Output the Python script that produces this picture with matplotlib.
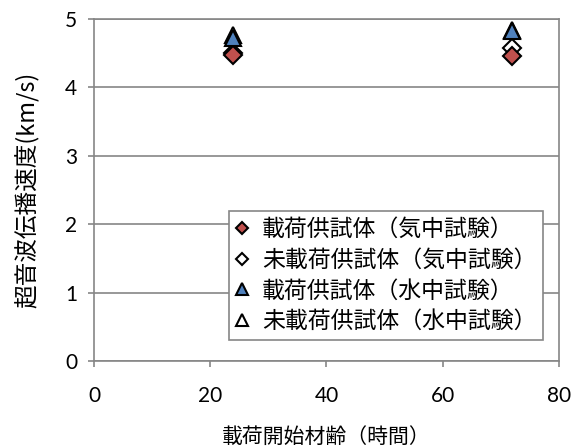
import matplotlib.pyplot as plt

# font list: Latin digits first, CJK fallback
plt.rcParams['font.family'] = ['Lato', 'Noto Sans CJK JP', 'DejaVu Sans']

# age at loading (hours) and ultrasonic velocity (km/s)
age = [24, 72]
v_loaded_air = [4.47, 4.46]
v_unloaded_air = [4.50, 4.57]
v_loaded_water = [4.72, 4.82]
v_unloaded_water = [4.77, 4.84]

labels = ['載荷供試体（気中試験）', '未載荷供試体（気中試験）',
          '載荷供試体（水中試験）', '未載荷供試体（水中試験）']

xticks = [0, 20, 40, 60, 80]
yticks = [0, 1, 2, 3, 4, 5]

grey = '#868686'
cjk = ['Noto Sans CJK JP', 'DejaVu Sans']

fig = plt.figure(figsize=(5.81, 4.48), dpi=100)
ax = fig.add_axes([0.1618, 0.1942, 0.8003, 0.7634])

# open markers go underneath, filled ones on top
h2, = ax.plot(age, v_unloaded_air, 'D', ms=9, mfc='white', mec='black', mew=1.5, ls='none', zorder=3)
h4, = ax.plot(age, v_unloaded_water, '^', ms=12, mfc='white', mec='black', mew=1.5, ls='none', zorder=3)
h1, = ax.plot(age, v_loaded_air, 'D', ms=9, mfc='#C0504D', mec='black', mew=1.5, ls='none', zorder=4)
h3, = ax.plot(age, v_loaded_water, '^', ms=12, mfc='#4F81BD', mec='black', mew=1.5, ls='none', zorder=4)

ax.set_xlim(0, 80)
ax.set_ylim(0, 5)
ax.set_xticks(xticks)
ax.set_yticks(yticks)
ax.yaxis.grid(True, color=grey, lw=1.2)
ax.set_axisbelow(True)
for s in ax.spines.values():
    s.set_color(grey)
    s.set_linewidth(1.2)
ax.tick_params(direction='out', length=4, width=1.2, color=grey, labelsize=15)
ax.tick_params(axis='x', pad=14)
ax.tick_params(axis='y', pad=8)

ax.set_xlabel('載荷開始材齢（時間）', fontsize=15, family=cjk, labelpad=14)
ax.set_ylabel('超音波伝播速度(km/s)', fontsize=17, family=cjk, labelpad=18)

leg = ax.legend([h1, h2, h3, h4], labels, loc='lower right',
                bbox_to_anchor=(0.966, 0.061), borderaxespad=0,
                fancybox=False, framealpha=1, edgecolor=grey,
                prop={'family': cjk, 'size': 16.5}, handlelength=0.6,
                handletextpad=0.55, labelspacing=0.34, borderpad=0.3,
                markerscale=0.7)
leg.get_frame().set_linewidth(1.2)

fig.savefig('out.png', dpi=100)
